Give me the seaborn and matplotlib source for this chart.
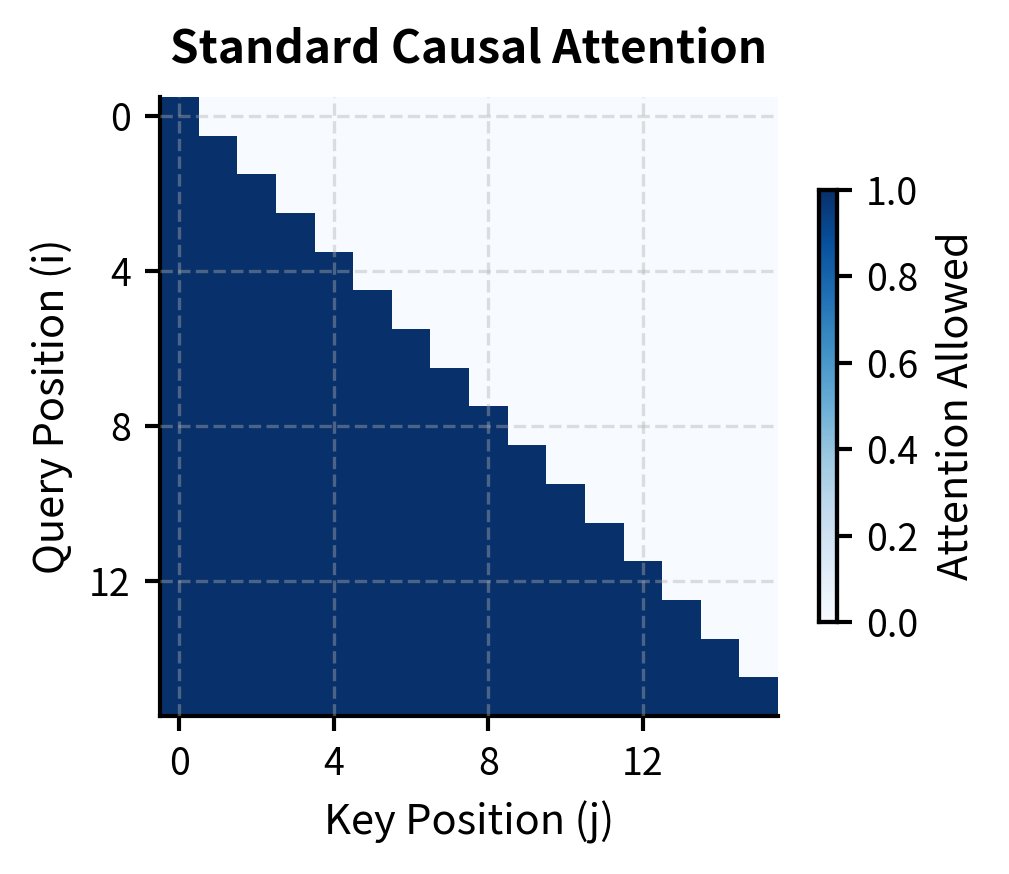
import numpy as np
import matplotlib
matplotlib.use("Agg")
import matplotlib.pyplot as plt
import seaborn as sns

plt.rcParams['font.family'] = ['Noto Sans CJK JP', 'DejaVu Sans']

# causal mask: query i may attend to keys 0..i
seq_len = 16
mask = np.tril(np.ones((seq_len, seq_len)))
tick_positions = [0, 4, 8, 12]
cbar_ticks = [0.0, 0.2, 0.4, 0.6, 0.8, 1.0]

fig = plt.figure(figsize=(1009 / 300, 874 / 300), dpi=300)
ax = fig.add_axes([160 / 1009, 1 - 716 / 874, 618 / 1009, 619 / 874])
cax = fig.add_axes([819 / 1009, 1 - 622 / 874, 18 / 1009, 432 / 874])

sns.heatmap(mask, cmap="Blues", vmin=0, vmax=1, ax=ax, cbar_ax=cax,
            square=False, xticklabels=False, yticklabels=False)

ax.set_xticks([t + 0.5 for t in tick_positions])
ax.set_xticklabels([str(t) for t in tick_positions], fontsize=9)
ax.set_yticks([t + 0.5 for t in tick_positions])
ax.set_yticklabels([str(t) for t in tick_positions], fontsize=9, rotation=0)
ax.tick_params(length=3.5, width=1.0)

for side in ["left", "bottom"]:
    ax.spines[side].set_visible(True)
    ax.spines[side].set_linewidth(1.0)
    ax.spines[side].set_color("black")

ax.set_axisbelow(False)
ax.grid(True, linestyle="--", color="#b0b0b0", alpha=0.4, linewidth=0.8)

ax.set_xlabel("Key Position (j)", fontsize=10)
ax.set_ylabel("Query Position (i)", fontsize=10)
ax.set_title("Standard Causal Attention", fontsize=11, fontweight="bold", pad=8)

cax.set_yticks(cbar_ticks)
cax.set_yticklabels([f"{t:.1f}" for t in cbar_ticks], fontsize=9)
cax.tick_params(length=3.5, width=1.0)
cax.set_ylabel("Attention Allowed", fontsize=10)
for sp in cax.spines.values():
    sp.set_visible(True)
    sp.set_linewidth(1.0)
    sp.set_color("black")

fig.savefig("out.png", dpi=300)
